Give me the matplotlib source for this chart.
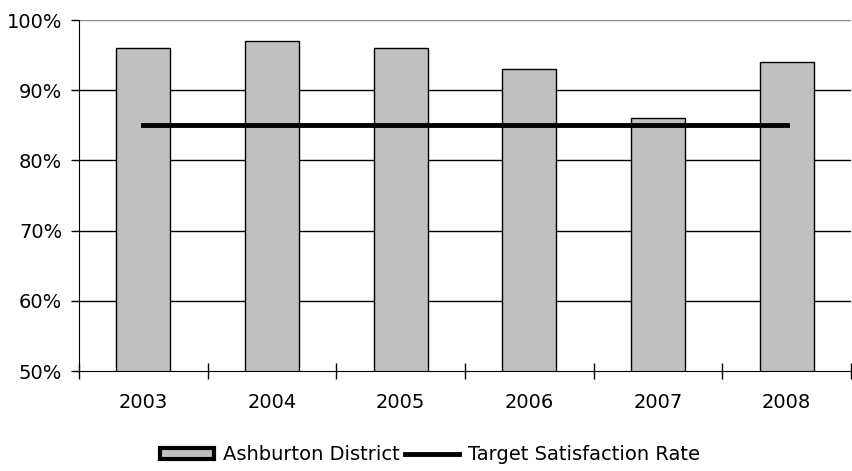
import matplotlib.pyplot as plt
import numpy as np
from matplotlib.ticker import FuncFormatter

years = ['2003', '2004', '2005', '2006', '2007', '2008']
district = [96, 97, 96, 93, 86, 94]   # satisfaction (%)
target = [85, 85, 85, 85, 85, 85]     # target satisfaction rate (%)

plt.rcParams['font.family'] = 'DejaVu Sans'

fig = plt.figure(figsize=(8.52, 4.71), dpi=100)
ax = fig.add_axes([0.0927, 0.2123, 0.9061, 0.7452])

x = np.arange(len(years))
bars = ax.bar(x, district, width=0.42, color='#c0c0c0', edgecolor='black',
              linewidth=1.0, zorder=2, label='Ashburton District')
line, = ax.plot(x, target, color='black', linewidth=3.5, zorder=3,
                label='Target Satisfaction Rate')

ax.set_xlim(-0.5, len(years) - 0.5)
ax.set_ylim(50, 100)

# horizontal gridlines, top one grey
for v in [60, 70, 80, 90]:
    ax.axhline(v, color='black', linewidth=1.0, zorder=1)
ax.axhline(100, color='#888888', linewidth=1.0, zorder=1)

ax.set_yticks([50, 60, 70, 80, 90, 100])
ax.yaxis.set_major_formatter(FuncFormatter(lambda v, p: '%d%%' % v))
ax.set_xticks(x)
ax.set_xticklabels(years)
ax.set_xticks(np.arange(len(years) + 1) - 0.5, minor=True)

ax.tick_params(axis='y', direction='out', length=6, width=1, pad=6, labelsize=14)
ax.tick_params(axis='x', which='major', length=0, pad=16, labelsize=14)
ax.tick_params(axis='x', which='minor', direction='inout', length=12, width=1)

for s in ['top', 'right']:
    ax.spines[s].set_visible(False)
ax.spines['bottom'].set_zorder(4)

leg = fig.legend([bars, line], ['Ashburton District', 'Target Satisfaction Rate'],
                 loc='center', bbox_to_anchor=(0.505, 0.034), ncol=2, frameon=False,
                 fontsize=14, handlelength=2.75, handleheight=0.55,
                 columnspacing=0.25, handletextpad=0.5)
leg.legend_handles[0].set_linewidth(3)

fig.savefig('out.png', dpi=100)
